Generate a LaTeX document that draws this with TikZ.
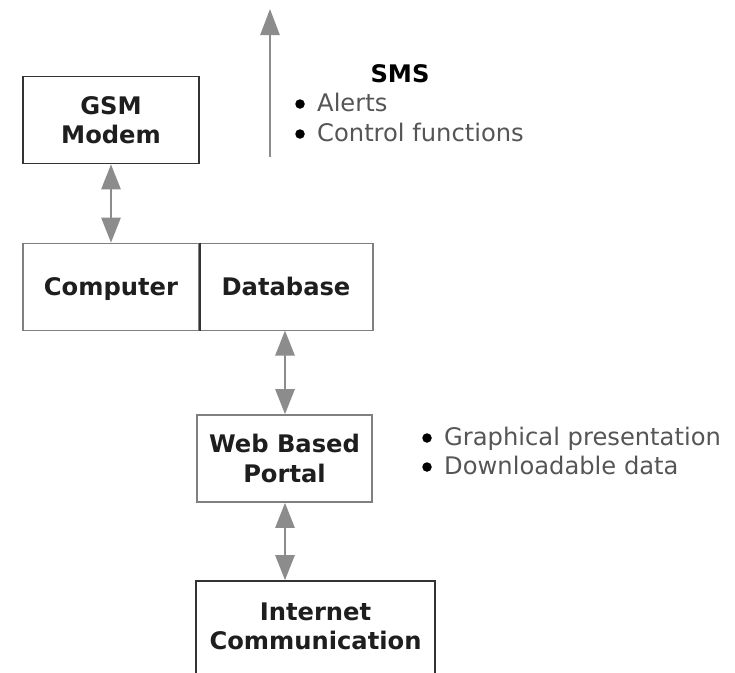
\documentclass[tikz,border=0pt]{standalone}
\usepackage{fontspec}
\setmainfont{DejaVu Sans}
\usetikzlibrary{arrows.meta}
\definecolor{boxdark}{HTML}{333333}
\definecolor{boxgray}{HTML}{808080}
\definecolor{arrowgray}{HTML}{8C8C8C}
\definecolor{labelgray}{HTML}{555555}
\definecolor{labeldark}{HTML}{1E1E1E}

\begin{document}
\begin{tikzpicture}[x=1pt,y=-1pt,
  box/.style={draw, line width=1.6pt, align=center, inner sep=0pt,
    font=\fontsize{24.2}{29.5}\selectfont\bfseries, text=labeldark},
  darkbox/.style={box, draw=boxdark},
  lightbox/.style={box, draw=boxgray},
  link/.style={draw=arrowgray, line width=2.6pt, {Triangle[length=25pt,width=19pt]}-{Triangle[length=25pt,width=19pt]}},
  uplink/.style={draw=arrowgray, line width=2.6pt, -{Triangle[length=26pt,width=19pt]}},
  note/.style={inner sep=0pt, anchor=base west,
    font=\fontsize{24.2}{30}\selectfont, text=labelgray},
  dot/.style={circle, fill=black, inner sep=0pt, minimum size=9.5pt},
]
\useasboundingbox[fill=white] (0,0) rectangle (735,672);

% boxes
\node[darkbox, minimum width=176pt, minimum height=87pt] (gsm) at (111,120) {GSM\\Modem};
\node[lightbox, minimum width=176pt, minimum height=87pt, text height=20pt, text depth=4pt] (comp) at (111,287) {Computer};
\node[lightbox, minimum width=174pt, minimum height=87pt, text height=20pt, text depth=4pt] (db) at (286,287) {Database};
\draw[boxdark, line width=1.6pt] (comp.north east) -- (comp.south east);
\node[lightbox, minimum width=175pt, minimum height=87pt] (portal) at (284.5,458.5) {Web Based\\Portal};
\node[darkbox, minimum width=239pt, minimum height=100pt, text depth=10pt] (inet) at (315.5,631) {Internet\\Communication};

% connectors
\draw[link] (285,330.5) coordinate (dbout) -- (dbout |- portal.north);
\draw[link] (gsm.south) -- (gsm.south |- comp.north);
\draw[link] (dbout |- portal.south) -- (dbout |- inet.north);

% outgoing SMS arrow
\coordinate (smsbase) at (270,157);
\coordinate (smstip) at (270,9);
\draw[uplink] (smsbase) -- (smstip);

% SMS notes
\node[font=\fontsize{24.2}{30}\selectfont\bfseries, text=black, inner sep=0pt, anchor=base] (smstitle) at (400,82) {SMS};
\node[dot] (d1) at (300,104) {};
\node[note] (alerts) at (317,111) {Alerts};
\node[dot] (d2) at (300,134) {};
\node[note] (control) at (317,141) {Control functions};

% portal notes
\node[dot] (d3) at (427,438) {};
\node[note] (graph) at (444,445) {Graphical presentation};
\node[dot] (d4) at (427,467) {};
\node[note] (download) at (444,474) {Downloadable data};
\end{tikzpicture}
\end{document}
